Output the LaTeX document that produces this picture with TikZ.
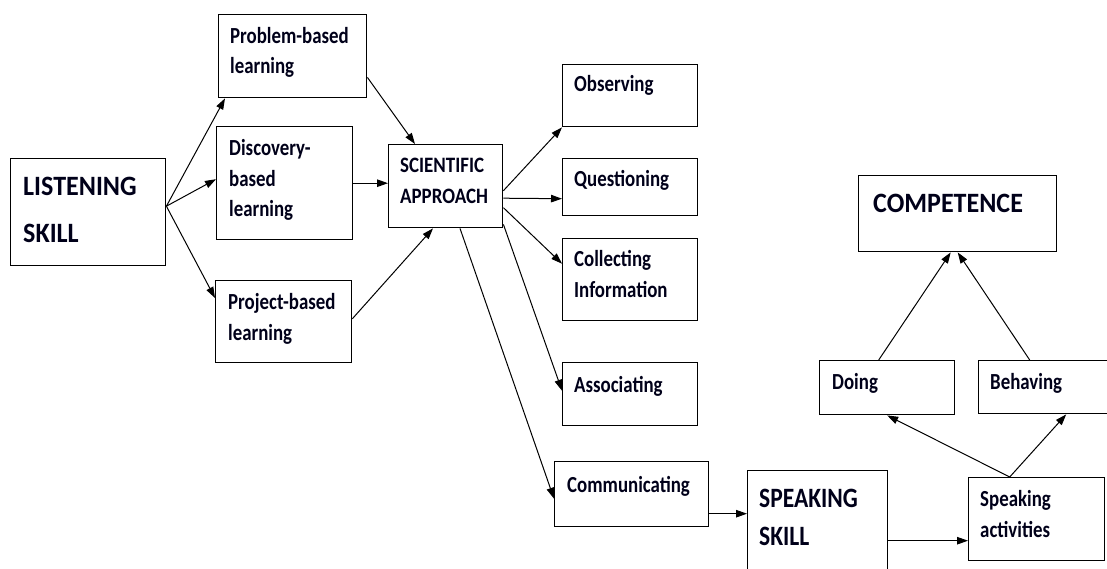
\documentclass[tikz,border=0pt]{standalone}
\usepackage{fontspec}
\setmainfont{Carlito}
\newfontfamily\smallfam[FakeStretch=0.82]{Carlito}
\newfontfamily\midfam[FakeStretch=0.86]{Carlito}
\newfontfamily\bigfam[FakeStretch=0.93]{Carlito}
\newfontfamily\spkfam[FakeStretch=0.84]{Carlito}
\usetikzlibrary{arrows.meta,calc}
\tikzset{
  box/.style={draw=black, line width=1.4pt, rectangle, inner sep=0pt, anchor=north west},
  lbl/.style={inner sep=0pt, anchor=base west, align=left, text=black!90!blue,
    font=\smallfam\bfseries\fontsize{23}{30.5}\selectfont},
  lblmid/.style={lbl, font=\midfam\bfseries\fontsize{22}{31}\selectfont},
  lblbig/.style={lbl, font=\bigfam\bfseries\fontsize{28}{47}\selectfont},
  lblspk/.style={lbl, font=\spkfam\bfseries\fontsize{28}{38}\selectfont},
  arr/.style={draw=black, line width=1pt, -{Triangle[length=11pt,width=7.5pt]}}
}
\begin{document}
\begin{tikzpicture}[x=1pt,y=-1pt]
\useasboundingbox (0,0) rectangle (1107,569);
\clip (0,0) rectangle (1107,569);
% boxes
\node[box, minimum width=155pt, minimum height=107pt] (lis) at (10,158) {};
\node[box, minimum width=148pt, minimum height=83pt] (prob) at (218,14) {};
\node[box, minimum width=136pt, minimum height=113pt] (disc) at (216,126) {};
\node[box, minimum width=136pt, minimum height=82pt] (proj) at (215,280) {};
\node[box, minimum width=114pt, minimum height=83pt] (sci) at (388,144) {};
\node[box, minimum width=135pt, minimum height=62pt] (obs) at (562,64) {};
\node[box, minimum width=135pt, minimum height=57pt] (que) at (562,158) {};
\node[box, minimum width=135pt, minimum height=82pt] (col) at (562,238) {};
\node[box, minimum width=135pt, minimum height=63pt] (ass) at (562,362) {};
\node[box, minimum width=154pt, minimum height=65pt] (com) at (554,461) {};
\node[box, minimum width=140pt, minimum height=110pt] (spk) at (747,470) {};
\node[box, minimum width=136pt, minimum height=83pt] (act) at (968,477) {};
\node[box, minimum width=135pt, minimum height=54pt] (doing) at (819,360) {};
\node[box, minimum width=135pt, minimum height=53pt] (beh) at (978,360) {};
\node[box, minimum width=198pt, minimum height=76pt] (comp) at (858,175) {};
% labels (base = baseline of last line)
\node[lblbig] (lis-t) at (23,242) {LISTENING\\SKILL};
\node[lbl] (prob-t) at (230,74) {Problem-based\\learning};
\node[lbl] (disc-t) at (229,217) {Discovery-\\based\\learning};
\node[lbl] (proj-t) at (228,340) {Project-based\\learning};
\node[lblmid] (sci-t) at (400,204) {SCIENTIFIC\\APPROACH};
\node[lbl] (obs-t) at (574,92) {Observing};
\node[lbl] (que-t) at (574,187) {Questioning};
\node[lbl] (col-t) at (574,297) {Collecting\\Information};
\node[lbl] (ass-t) at (574,392) {Associating};
\node[lbl] (com-t) at (567,492) {Communicating};
\node[lblspk] (spk-t) at (759,545) {SPEAKING\\SKILL};
\node[lbl] (act-t) at (980,537) {Speaking\\activities};
\node[lbl] (doing-t) at (832,389) {Doing};
\node[lbl] (beh-t) at (990,389) {Behaving};
\node[lblbig] (comp-t) at (873,213) {COMPETENCE};
% connectors
\draw[arr] ($(lis.east)+(0,-6)$) -- ($(prob.south west)+(7,0)$);
\draw[arr] ($(lis.east)+(0,-6)$) -- ($(disc.west)+(0,-4)$);
\draw[arr] ($(lis.east)+(0,-6)$) -- ($(proj.north west)+(0,18)$);
\draw[arr] ($(prob.south east)+(0,-21)$) -- ($(sci.north west)+(27,0)$);
\draw[arr] (disc.east) -- (disc.east -| sci.west);
\draw[arr] ($(proj.east)+(0,-3)$) -- ($(sci.south west)+(45,0)$);
\draw[arr] ($(sci.east)+(0,4.5)$) -- (obs.south west);
\draw[arr] ($(sci.east)+(0,12)$) -- ($(que.west)+(0,11.5)$);
\draw[arr] ($(sci.east)+(0,21.5)$) -- ($(col.west)+(0,-16)$);
\draw[arr] ($(sci.south east)+(0,-4)$) -- ($(ass.west)+(0,-3.5)$);
\draw[arr] ($(sci.south west)+(72,0)$) -- ($(com.west)+(0,4.5)$);
\draw[arr] ($(com.east)+(0,19.5)$) -- ($(spk.west)+(0,-12)$);
\draw[arr] ($(spk.east)+(0,15)$) -- ($(act.west)+(0,21.5)$);
\draw[arr] ($(act.north)+(-27,0)$) -- (doing.south);
\draw[arr] ($(act.north)+(-27,0)$) -- ($(beh.south)+(20,0)$);
\draw[arr] ($(doing.north)+(-8.5,0)$) -- ($(comp.south)+(-7,0)$);
\draw[arr] ($(beh.north)+(-16.5,0)$) -- (comp.south);
\end{tikzpicture}
\end{document}
